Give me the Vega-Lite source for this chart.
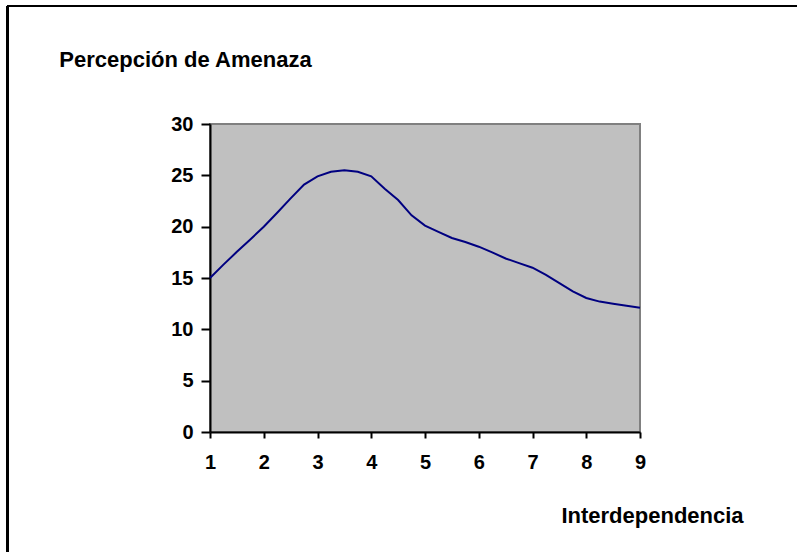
{
  "$schema": "https://vega.github.io/schema/vega-lite/v6.json",
  "autosize": "none",
  "width": 430,
  "height": 308,
  "padding": {"left": 210, "top": 124, "right": 157, "bottom": 120},
  "background": "white",
  "config": {
    "font": "Liberation Sans",
    "view": {"fill": "#C0C0C0", "stroke": "#808080", "strokeWidth": 2}
  },
  "data": {
    "values": [
      {"x": 1, "y": 15.0}, {"x": 1.25, "y": 16.3}, {"x": 1.5, "y": 17.55}, {"x": 1.75, "y": 18.75},
      {"x": 2, "y": 20.0}, {"x": 2.25, "y": 21.35}, {"x": 2.5, "y": 22.75}, {"x": 2.75, "y": 24.1},
      {"x": 3, "y": 24.9}, {"x": 3.25, "y": 25.35}, {"x": 3.5, "y": 25.5}, {"x": 3.75, "y": 25.35},
      {"x": 4, "y": 24.9}, {"x": 4.25, "y": 23.7}, {"x": 4.5, "y": 22.6}, {"x": 4.75, "y": 21.1},
      {"x": 5, "y": 20.1}, {"x": 5.25, "y": 19.5}, {"x": 5.5, "y": 18.9}, {"x": 5.75, "y": 18.5},
      {"x": 6, "y": 18.05}, {"x": 6.25, "y": 17.5}, {"x": 6.5, "y": 16.9}, {"x": 6.75, "y": 16.45},
      {"x": 7, "y": 16.0}, {"x": 7.25, "y": 15.3}, {"x": 7.5, "y": 14.5}, {"x": 7.75, "y": 13.7},
      {"x": 8, "y": 13.05}, {"x": 8.25, "y": 12.7}, {"x": 8.5, "y": 12.5}, {"x": 8.75, "y": 12.3},
      {"x": 9, "y": 12.1}
    ]
  },
  "layer": [
    {
      "mark": {"type": "line", "color": "#000080", "strokeWidth": 2},
      "encoding": {
        "x": {
          "field": "x", "type": "quantitative",
          "scale": {"domain": [1, 9], "nice": false, "zero": false},
          "axis": {
            "values": [1, 2, 3, 4, 5, 6, 7, 8, 9],
            "title": "Interdependencia",
            "titleFont": "Liberation Sans", "titleFontSize": 22, "titleFontWeight": "bold", "titleColor": "black",
            "titleAnchor": null, "titleAlign": "center", "titleBaseline": "alphabetic",
            "titleX": 442, "titleY": 90,
            "domainColor": "black", "domainWidth": 2,
            "tickColor": "black", "tickWidth": 2, "tickSize": 6,
            "labelFont": "Liberation Sans", "labelFontSize": 20, "labelFontWeight": "bold", "labelColor": "black",
            "labelPadding": 14, "labelBaseline": "top",
            "grid": false, "labelFlush": false
          }
        },
        "y": {
          "field": "y", "type": "quantitative",
          "scale": {"domain": [0, 30], "nice": false},
          "axis": {
            "values": [0, 5, 10, 15, 20, 25, 30],
            "title": "Percepción de Amenaza",
            "titleFont": "Liberation Sans", "titleFontSize": 22, "titleFontWeight": "bold", "titleColor": "black",
            "titleAngle": 0, "titleAnchor": null, "titleAlign": "center", "titleBaseline": "alphabetic",
            "titleX": -25, "titleY": -58,
            "domainColor": "black", "domainWidth": 2,
            "tickColor": "black", "tickWidth": 2, "tickSize": 9,
            "labelFont": "Liberation Sans", "labelFontSize": 20, "labelFontWeight": "bold", "labelColor": "black",
            "labelPadding": 8, "labelBaseline": "middle",
            "grid": false, "labelFlush": false
          }
        }
      }
    },
    {
      "mark": {"type": "rule", "color": "black", "strokeWidth": 2, "clip": false},
      "encoding": {
        "x": {"datum": -2.767, "type": "quantitative"},
        "x2": {"datum": 20},
        "y": {"datum": 41.49, "type": "quantitative"}
      }
    },
    {
      "mark": {"type": "rule", "color": "black", "strokeWidth": 2, "clip": false},
      "encoding": {
        "x": {"datum": -2.767, "type": "quantitative"},
        "y": {"datum": 41.49, "type": "quantitative"},
        "y2": {"datum": -20}
      }
    }
  ]
}
